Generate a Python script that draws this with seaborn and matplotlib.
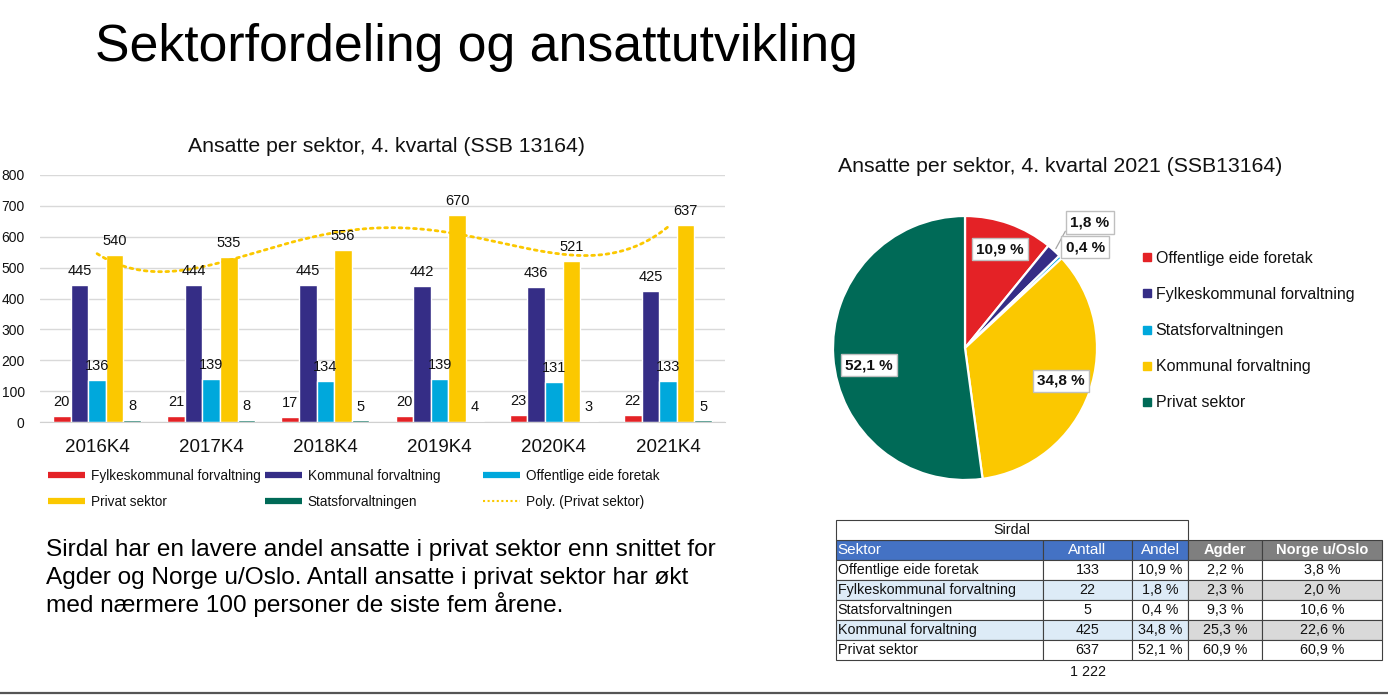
import numpy as np
import pandas as pd
import matplotlib
matplotlib.use("Agg")
import matplotlib.pyplot as plt
from matplotlib.lines import Line2D
import seaborn as sns

sns.set_style("white")
plt.rcParams['font.family'] = ['Liberation Sans', 'DejaVu Sans']

# ---------------- data ----------------
years = ['2016K4', '2017K4', '2018K4', '2019K4', '2020K4', '2021K4']
sectors_bar = ['Fylkeskommunal forvaltning', 'Kommunal forvaltning', 'Offentlige eide foretak',
               'Privat sektor', 'Statsforvaltningen']
fylke = [20, 21, 17, 20, 23, 22]
kommunal = [445, 444, 445, 442, 436, 425]
offentlige = [136, 139, 134, 139, 131, 133]
privat = [540, 535, 556, 670, 521, 637]
stats = [8, 8, 5, 4, 3, 5]
bar_colors = ['#E42226', '#352D86', '#00A8DC', '#FBC800', '#006A57']

pie_labels = ['Offentlige eide foretak', 'Fylkeskommunal forvaltning', 'Statsforvaltningen',
              'Kommunal forvaltning', 'Privat sektor']
antall = [133, 22, 5, 425, 637]
andel = ['10,9 %', '1,8 %', '0,4 %', '34,8 %', '52,1 %']
agder = ['2,2 %', '2,3 %', '9,3 %', '25,3 %', '60,9 %']
norge = ['3,8 %', '2,0 %', '10,6 %', '22,6 %', '60,9 %']
pie_colors = ['#E42226', '#352D86', '#00A8DC', '#FBC800', '#006A57']
table_header = ['Sektor', 'Antall', 'Andel', 'Agder', 'Norge u/Oslo']

W, H = 1388, 698
fig = plt.figure(figsize=(W / 100, H / 100), dpi=100)


def fx(px):
    return px / W


def fy(py):
    return 1 - py / H


TXT = '#111111'

# ---------------- titles / text ----------------
fig.text(fx(95), fy(61), 'Sektorfordeling og ansattutvikling', fontsize=37.3, va='baseline',
         ha='left', color='black')
para = ['Sirdal har en lavere andel ansatte i privat sektor enn snittet for',
        'Agder og Norge u/Oslo. Antall ansatte i privat sektor har økt',
        'med nærmere 100 personer de siste fem årene.']
for i, line in enumerate(para):
    fig.text(fx(46), fy(556 + 28 * i), line, fontsize=17.6, va='baseline', ha='left',
             color='black')

# ---------------- bar chart ----------------
df = pd.DataFrame({
    'year': years * 5,
    'sector': sum([[s] * 6 for s in sectors_bar], []),
    'value': fylke + kommunal + offentlige + privat + stats,
})
ax = fig.add_axes([fx(40), fy(422), (725 - 40) / W, (422 - 175) / H])
sns.barplot(data=df, x='year', y='value', hue='sector', hue_order=sectors_bar, order=years,
            palette=bar_colors, saturation=1, width=0.77, legend=False, ax=ax, errorbar=None)
for cont in ax.containers:
    ax.bar_label(cont, padding=5, fontsize=10.5, color=TXT)

# polynomial trend (order 4) for Privat sektor, as Excel's "Poly." trendline
xs = np.arange(len(years))
coef = np.polyfit(xs, privat, 4)
xx = np.linspace(0, len(years) - 1, 300)
ax.plot(xx, np.polyval(coef, xx), color='#FBC800', lw=2, linestyle=(0, (1, 1.6)),
        dash_capstyle='round')

ax.set_xlim(-0.5, 5.5)
ax.set_ylim(0, 800)
ax.set_yticks(range(0, 801, 100))
ax.set_xlabel('')
ax.set_ylabel('')
ax.grid(axis='y', color='#d9d9d9', lw=1)
ax.set_axisbelow(True)
for s in ['top', 'right', 'left']:
    ax.spines[s].set_visible(False)
ax.spines['bottom'].set_color('#d0d0d0')
ax.tick_params(axis='y', length=0, labelsize=10, pad=11, colors=TXT)
ax.tick_params(axis='x', length=0, labelsize=13.5, pad=12, colors=TXT)
fig.text(fx(387), fy(146), 'Ansatte per sektor, 4. kvartal (SSB 13164)', fontsize=15.3,
         ha='center', va='center', color=TXT)

# legend (three columns, fixed positions)
handles = {s: Line2D([0], [0], color=c, lw=4.5, solid_capstyle='butt')
           for s, c in zip(sectors_bar, bar_colors)}
poly_h = Line2D([0], [0], color='#FBC800', lw=1.5, linestyle=(0, (1, 1.2)))
cols = [
    (48, [('Fylkeskommunal forvaltning', handles['Fylkeskommunal forvaltning']),
          ('Privat sektor', handles['Privat sektor'])]),
    (265, [('Kommunal forvaltning', handles['Kommunal forvaltning']),
           ('Statsforvaltningen', handles['Statsforvaltningen'])]),
    (483, [('Offentlige eide foretak', handles['Offentlige eide foretak']),
           ('Poly. (Privat sektor)', poly_h)]),
]
for xpx, items in cols:
    leg = fig.legend([h for _, h in items], [l for l, _ in items], loc='upper left',
                     bbox_to_anchor=(fx(xpx), fy(469)), frameon=False, fontsize=9.8,
                     handlelength=2.75, handletextpad=0.4, labelspacing=0.85, borderpad=0,
                     borderaxespad=0)
    for t in leg.get_texts():
        t.set_color(TXT)

# ---------------- pie chart ----------------
R = 132
axp = fig.add_axes([fx(965 - R), fy(348 + R), 2 * R / W, 2 * R / H])
wedges, _ = axp.pie(antall, colors=pie_colors, startangle=90, counterclock=False,
                    wedgeprops=dict(edgecolor='white', linewidth=1.6))
axp.set_xlim(-1, 1)
axp.set_ylim(-1, 1)
axp.set_aspect('equal')
axp.axis('off')
label_dist = [0.795, 1.34, 1.19, 0.77, 0.74]
label_off = [0.0, -2.4, -3.6, 0.8, 6.2]
bbox_style = dict(boxstyle='square,pad=0.28', fc='white', ec='#bfbfbf', lw=1)
for i, w in enumerate(wedges):
    mid = np.deg2rad((w.theta1 + w.theta2) / 2)
    ang = mid + np.deg2rad(label_off[i])
    pos = (label_dist[i] * np.cos(ang), label_dist[i] * np.sin(ang))
    if i == 1:
        edge = (1.02 * np.cos(mid), 1.02 * np.sin(mid))
        axp.annotate(andel[i], xy=edge, xytext=pos, ha='center', va='center', fontsize=11,
                     fontweight='bold', color=TXT, bbox=bbox_style, annotation_clip=False,
                     arrowprops=dict(arrowstyle='-', color='#a6a6a6', lw=0.9, relpos=(0, 0.5),
                                     shrinkA=0, shrinkB=0))
    else:
        axp.text(pos[0], pos[1], andel[i], ha='center', va='center', fontsize=11,
                 fontweight='bold', color=TXT, bbox=bbox_style, clip_on=False)
fig.text(fx(1060), fy(166), 'Ansatte per sektor, 4. kvartal 2021 (SSB13164)', fontsize=15.3,
         ha='center', va='center', color=TXT)
pie_handles = [Line2D([0], [0], marker='s', color='none', markerfacecolor=c, markeredgecolor=c,
                      markersize=5.5) for c in pie_colors]
pleg = fig.legend(pie_handles, pie_labels, loc='upper left', bbox_to_anchor=(fx(1142), fy(251)),
                  frameon=False, fontsize=11.5, handlelength=0.6, handletextpad=0.25,
                  labelspacing=1.32, borderpad=0, borderaxespad=0)
for t in pleg.get_texts():
    t.set_color(TXT)

# ---------------- table ----------------
col_px = [207, 89, 56, 74, 120]
tw = sum(col_px)
top_px, bot_px = 520, 660
axt = fig.add_axes([fx(836), fy(bot_px), tw / W, (bot_px - top_px) / H])
axt.axis('off')
rows = [[pie_labels[i], str(antall[i]), andel[i], agder[i], norge[i]] for i in range(5)]
th = bot_px - top_px
tbl = axt.table(cellText=rows, colLabels=table_header, colWidths=[c / tw for c in col_px],
                bbox=[0, 0, 1, 120 / th], cellLoc='center')
tbl.auto_set_font_size(False)
FS_T = 10.3
for (r, c), cell in tbl.get_celld().items():
    cell.set_edgecolor('#404040')
    cell.set_linewidth(0.8)
    cell.get_text().set_fontsize(FS_T)
    cell.get_text().set_color(TXT)
    if c == 0:
        cell._loc = 'left'
        cell.PAD = 0.008
        cell.get_text().set_ha('left')
    if r == 0:
        if c <= 2:
            cell.set_facecolor('#4472C4')
            cell.get_text().set_color('white')
            cell.get_text().set_fontsize(11)
        else:
            cell.set_facecolor('#7F7F7F')
            cell.get_text().set_color('white')
            cell.get_text().set_fontweight('bold')
            cell.get_text().set_fontsize(10.5)
    elif r in (2, 4):
        cell.set_facecolor('#DDEBF7' if c <= 2 else '#D9D9D9')
    else:
        cell.set_facecolor('white')
sird_w = sum(col_px[:3]) / tw
t2 = axt.table(cellText=[['Sirdal']], colWidths=[sird_w], bbox=[0, 120 / th, sird_w, 20 / th],
               cellLoc='center')
t2.auto_set_font_size(False)
for cell in t2.get_celld().values():
    cell.set_edgecolor('#404040')
    cell.set_linewidth(0.8)
    cell.get_text().set_fontsize(FS_T)
    cell.get_text().set_color(TXT)
total = sum(antall)
fig.text(fx(836 + col_px[0] + col_px[1] / 2), fy(672), f'{total:,}'.replace(',', ' '),
         fontsize=FS_T, ha='center', va='center', color=TXT)

# bottom rule
fig.add_artist(Line2D([0, 1], [fy(693), fy(693)], color='#555555', lw=1.6,
                      transform=fig.transFigure))

fig.savefig('out.png', dpi=100)
